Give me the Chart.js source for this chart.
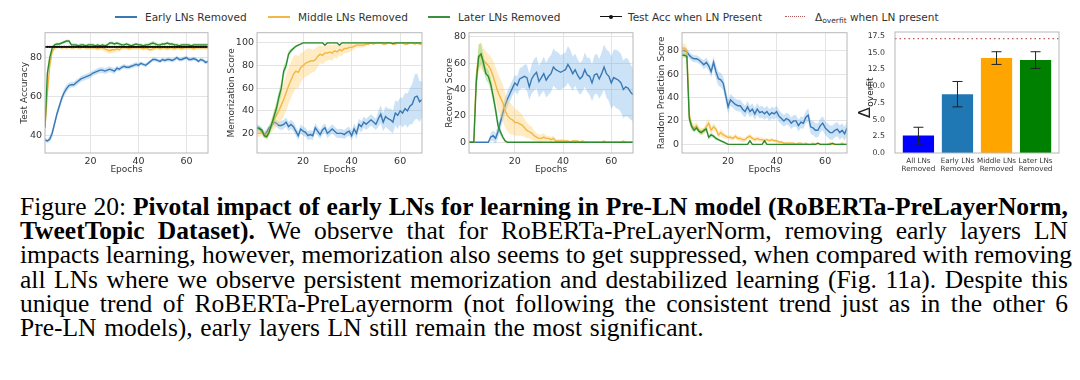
<!DOCTYPE html>
<html>
<head>
<meta charset="utf-8">
<script src="https://cdn.jsdelivr.net/npm/chart.js@4.4.1/dist/chart.umd.min.js"></script>
<style>
  body { margin: 0; background: #fff; width: 1080px; height: 380px; position: relative; overflow: hidden; font-family: "DejaVu Sans", sans-serif; }
  canvas { position: absolute; top: 24px; }
  .leg { position: absolute; top: 10px; font-size: 10.5px; line-height: 14px; color: #333; white-space: nowrap; }
  .sw { position: absolute; top: 16px; height: 0; border-top: 2px solid; }
  .dot { position: absolute; top: 15px; width: 4px; height: 4px; border-radius: 50%; background: #111; }
  .cap { position: absolute; left: 20px; width: 1048px; font-family: "Liberation Serif", "Times New Roman", serif; font-size: 25.5px; line-height: 24px; color: #000; white-space: nowrap; text-align: justify; text-align-last: justify; }
  .cap.last { text-align-last: left; word-spacing: 1.3px; }
  sub { font-size: 7.5px; vertical-align: -2px; }
</style>
</head>
<body>
<div class="sw" style="left:115px;width:22px;border-color:#3a78b4"></div>
<div class="leg" style="left:145px">Early LNs Removed</div>
<div class="sw" style="left:268px;width:22px;border-color:#f2b744"></div>
<div class="leg" style="left:298px">Middle LNs Removed</div>
<div class="sw" style="left:428px;width:22px;border-color:#3c8f3c"></div>
<div class="leg" style="left:458px">Later LNs Removed</div>
<div class="sw" style="left:600px;width:22px;border-color:#111;border-top-width:1.5px"></div>
<div class="dot" style="left:609px"></div>
<div class="leg" style="left:628px">Test Acc when LN Present</div>
<div class="sw" style="left:785px;width:20px;border-color:#b35a5a;border-top-style:dotted;border-top-width:1.5px"></div>
<div class="leg" style="left:815px">Δ<sub>overfit</sub> when LN present</div>

<canvas id="accChart" width="215" height="156" style="left:0px"></canvas>
<canvas id="memChart" width="215" height="156" style="left:215px"></canvas>
<canvas id="recChart" width="210" height="156" style="left:430px"></canvas>
<canvas id="randChart" width="215" height="156" style="left:640px"></canvas>
<canvas id="overfitChart" width="215" height="156" style="left:850px"></canvas>

<div class="cap" style="top:195px">Figure 20: <b>Pivotal impact of early LNs for learning in Pre-LN model (RoBERTa-PreLayerNorm,</b></div>
<div class="cap" style="top:219.2px"><b>TweetTopic Dataset).</b> We observe that for RoBERTa-PreLayerNorm, removing early layers LN</div>
<div class="cap" style="top:243.4px">impacts learning, however, memorization also seems to get suppressed, when compared with removing</div>
<div class="cap" style="top:267.6px">all LNs where we observe persistent memorization and destabilized learning (Fig. 11a). Despite this</div>
<div class="cap" style="top:291.8px">unique trend of RoBERTa-PreLayernorm (not following the consistent trend just as in the other 6</div>
<div class="cap last" style="top:316px">Pre-LN models), early layers LN still remain the most significant.</div>

<script>
// epochs 1..69
const epochs = Array.from({ length: 69 }, (_, i) => i + 1);

// Test accuracy
const accPresent = 85.5;
const accEarly = [37.5, 37, 38, 41, 46, 51, 55, 59, 62, 64,
  65.5, 66, 66, 67, 68, 69, 69.5, 70, 70.5, 71,
  72, 72.5, 73, 73.5, 73.5, 73, 73.5, 74, 73.5, 73,
  74.5, 74, 75, 75.5, 75, 75, 75.5, 76, 76.5, 76,
  77, 76.5, 76, 77, 78, 79, 79, 78.5, 78, 79,
  78.5, 79, 79, 78.5, 79, 80, 79, 79, 79.5, 80,
  79, 79, 79.5, 79, 78, 79, 78.5, 77.5, 78];
const accEarlySd = [1, 1, 1.5, 2, 2, 2, 2, 2, 2, 2,
  1.5, 1.5, 1.5, 1.5, 1.5, 1.5, 1.5, 1.5, 1.5, 1.5,
  1.5, 1.5, 1.5, 1.5, 1.5, 1.5, 1.5, 1.5, 1.5, 1.5,
  1.2, 1.2, 1.2, 1.2, 1.2, 1.2, 1.2, 1.2, 1.2, 1.2,
  1, 1, 1, 1, 1, 1, 1, 1, 1, 1,
  1, 1, 1, 1, 1, 1, 1, 1, 1, 1,
  1, 1, 1, 1, 1, 1, 1, 1, 1];
const accMiddle = [44, 62, 76, 83, 85, 85.5, 85.5, 85, 85.5, 85,
  85.5, 85, 85, 85.5, 85, 85, 85.5, 85, 85, 85,
  85, 85, 84.5, 85, 85, 84.5, 84, 83.5, 84, 84,
  84.5, 84, 85, 85, 85, 84.5, 85, 85, 85, 85,
  85, 84.5, 85, 84.5, 84, 84.5, 85, 85, 84.5, 85,
  85, 84.5, 85, 85, 84.5, 85, 85, 84.5, 85, 85,
  85, 85, 84.5, 85, 85, 85, 85, 85, 85];
const accMiddleSd = [3, 4, 3, 1.5, 1, 1, 1, 1, 1, 1,
  1, 1, 1, 1, 1, 1, 1, 1, 1, 1,
  1, 1, 1, 1, 1.2, 1.5, 1.5, 1.5, 1.5, 1.5,
  1.2, 1, 1, 1, 1, 1, 1, 1, 1, 1,
  1, 1, 1, 1, 1.2, 1.2, 1, 1, 1, 1,
  1, 1, 1, 1, 1, 1, 1, 1, 1, 1,
  1, 1, 1, 1, 1, 1, 1, 1, 1];
const accLater = [44, 72, 80, 85, 86.5, 87, 87, 87.5, 88, 88.5,
  88.5, 86.5, 86.5, 86.5, 86, 86.5, 86.5, 86, 86.5, 86.5,
  86.5, 86, 86.5, 86, 86.5, 86, 86.5, 87.5, 87.5, 87,
  87.5, 87, 86.5, 86.5, 87, 86.5, 86, 86.5, 87, 86.5,
  86.5, 86, 86.5, 86.5, 87, 87.5, 87, 86.5, 86.5, 87,
  87, 87.5, 87, 87, 86.5, 86.5, 86, 86.5, 86.5, 86.5,
  86.5, 86, 86.5, 86.5, 86.5, 86.5, 86.5, 86.5, 86.5];
const accLaterSd = [3, 3, 2, 1, 0.8, 0.8, 0.8, 0.8, 0.8, 0.8,
  0.8, 0.8, 0.8, 0.8, 0.8, 0.8, 0.8, 0.8, 0.8, 0.8,
  0.8, 0.8, 0.8, 0.8, 0.8, 0.8, 0.8, 0.8, 0.8, 0.8,
  0.8, 0.8, 0.8, 0.8, 0.8, 0.8, 0.8, 0.8, 0.8, 0.8,
  0.8, 0.8, 0.8, 0.8, 1, 1, 1, 0.8, 0.8, 0.8,
  0.8, 0.8, 0.8, 0.8, 0.8, 0.8, 0.8, 0.8, 0.8, 0.8,
  0.8, 0.8, 0.8, 0.8, 0.8, 0.8, 0.8, 0.8, 0.8];

// Memorization score
const memEarly = [25, 24, 22, 19, 21, 25, 27, 30, 29, 27,
  27, 28, 30, 26, 28, 26, 22, 18, 24, 22,
  21, 18, 19, 18, 25, 22, 19, 23, 25, 20,
  22, 24, 22, 20, 20, 20, 19, 21, 22, 18,
  24, 20, 28, 26, 30, 28, 30, 32, 30, 28,
  33, 37, 30, 35, 33, 32, 30, 38, 36, 40,
  38, 42, 40, 44, 46, 52, 53, 48, 50];
const memEarlySd = [3, 3, 3, 3, 3, 3, 3, 3, 3, 3,
  4, 4, 4, 4, 4, 4, 4, 4, 4, 4,
  4, 4, 4, 4, 4, 4, 4, 4, 4, 4,
  4, 4, 4, 4, 4, 4, 4, 4, 4, 4,
  5, 5, 5, 5, 5, 5, 5, 5, 5, 5,
  7, 8, 8, 9, 9, 10, 10, 11, 12, 12,
  13, 14, 15, 16, 18, 20, 20, 18, 16];
const memMiddle = [20, 20, 21, 19, 18, 22, 27, 32, 36, 40,
  45, 50, 56, 62, 67, 72, 75, 74, 78, 80,
  82, 83, 84, 84, 85, 88, 90, 89, 91, 91,
  92, 91, 93, 92, 94, 93, 95, 95, 96, 96,
  97, 98, 98, 98, 98, 99, 99, 100, 99, 100,
  100, 100, 99, 99, 100, 100, 99, 99, 100, 100,
  100, 99, 99, 100, 100, 99, 100, 99, 99];
const memMiddleSd = [3, 3, 3, 3, 3, 4, 6, 8, 10, 12,
  14, 15, 16, 16, 16, 16, 15, 14, 13, 12,
  12, 12, 11, 10, 10, 9, 8, 8, 8, 7,
  7, 7, 6, 6, 5, 5, 4, 4, 4, 3,
  3, 2, 2, 2, 2, 1.5, 1.5, 1, 1, 1,
  1, 1, 1, 1, 1, 1, 1, 1, 1, 1,
  1, 1, 1, 1, 1, 1, 1, 1, 1];
const memLater = [25, 24.5, 23, 18, 17, 21, 28, 35, 42, 52,
  60, 75, 80, 90, 93, 95, 97, 98, 99, 100,
  100, 100, 100, 100, 100, 100, 100, 100, 98, 100,
  100, 100, 100, 100, 98, 100, 100, 100, 100, 100,
  100, 100, 100, 100, 100, 100, 100, 100, 100, 100,
  100, 100, 100, 100, 100, 100, 99.5, 100, 100, 100,
  100, 100, 100, 100, 100, 100, 100, 100, 100];
const memLaterSd = [2, 2, 2, 2, 2, 3, 4, 5, 6, 6,
  6, 5, 4, 3, 2, 1.5, 1, 1, 0.5, 0.5,
  0.5, 0.5, 0.5, 0.5, 0.5, 0.5, 0.5, 0.5, 1, 0.5,
  0.5, 0.5, 0.5, 0.5, 1, 0.5, 0.5, 0.5, 0.5, 0.5,
  0.5, 0.5, 0.5, 0.5, 0.5, 0.5, 0.5, 0.5, 0.5, 0.5,
  0.5, 0.5, 0.5, 0.5, 0.5, 0.5, 0.5, 0.5, 0.5, 0.5,
  0.5, 0.5, 0.5, 0.5, 0.5, 0.5, 0.5, 0.5, 0.5];

// Recovery score
const recEarly = [0, 0, 0, 0, 0, 0, 0, 0, 0, 4,
  5, 3, 8, 15, 22, 28, 33, 37, 41, 45,
  43, 48, 49, 50, 49, 42, 48, 51, 53, 46,
  49, 52, 47, 50, 52, 57, 55, 54, 53, 54,
  55, 59, 56, 52, 55, 51, 48, 50, 55, 51,
  50, 45, 51, 52, 48, 52, 57, 52, 50, 45,
  49, 48, 47, 45, 40, 42, 41, 38, 36];
const recEarlySd = [0, 0, 0, 0, 0, 0, 0, 0, 0, 3,
  4, 4, 5, 5, 6, 6, 6, 6, 6, 6,
  7, 8, 8, 9, 10, 10, 11, 12, 12, 12,
  12, 13, 13, 14, 14, 14, 14, 14, 13, 13,
  13, 14, 14, 13, 12, 12, 12, 12, 13, 13,
  14, 14, 15, 15, 15, 16, 17, 18, 19, 20,
  21, 22, 22, 22, 22, 22, 22, 21, 20];
const recMiddle = [0, 0, 0, 50, 64, 66, 62, 60, 58, 55,
  50, 44, 38, 34, 30, 24, 20, 18, 17, 15,
  15, 14, 13, 11, 9, 8, 7, 5, 4, 3,
  3, 4, 3, 3, 2, 3, 1, 1, 1, 1,
  1, 1, 0, 1, 1, 1, 0, 1, 0, 0,
  0, 0, 0, 0, 0, 0, 1, 0, 0, 0,
  0, 0, 0, 0, 1, 0, 0, 0, 0];
const recMiddleSd = [0, 0, 0, 8, 10, 10, 9, 9, 9, 10,
  12, 13, 14, 14, 14, 13, 12, 12, 11, 10,
  10, 9, 8, 7, 6, 5, 5, 4, 3, 3,
  3, 3, 2, 2, 2, 2, 1.5, 1.5, 1.5, 1.5,
  1, 1, 1, 1, 1, 1, 1, 1, 1, 1,
  0.5, 0.5, 0.5, 0.5, 0.5, 0.5, 0.5, 0.5, 0.5, 0.5,
  0.5, 0.5, 0.5, 0.5, 0.5, 0.5, 0.5, 0.5, 0.5];
const recLater = [0, 0, 0, 45, 65, 67, 60, 52, 50, 44,
  35, 25, 13, 8, 4, 1, 0, 0, 0, 0,
  0, 0, 0, 0, 0, 0, 0, 0, 0, 0,
  0, 0, 0, 0, 0, 0, 0, 0, 0, 0,
  0, 0, 0, 0, 0, 0, 0, 0, 0, 0,
  0, 0, 0, 0, 0, 0, 0, 0, 0, 0,
  0, 0, 0, 0, 0, 0, 0, 0, 0];
const recLaterSd = [0, 0, 0, 8, 9, 8, 6, 5, 5, 5,
  5, 5, 4, 3, 2, 1, 0, 0, 0, 0,
  0, 0, 0, 0, 0, 0, 0, 0, 0, 0,
  0, 0, 0, 0, 0, 0, 0, 0, 0, 0,
  0, 0, 0, 0, 0, 0, 0, 0, 0, 0,
  0, 0, 0, 0, 0, 0, 0, 0, 0, 0,
  0, 0, 0, 0, 0, 0, 0, 0, 0];

// Random prediction score
const randEarly = [80, 80, 79, 76, 74, 73, 73, 72, 70, 68,
  70, 67, 62, 70, 62, 56, 55, 52, 42, 32,
  38, 36, 34, 33, 33, 30, 28, 32, 28, 30,
  26, 30, 27, 28, 26, 28, 25, 27, 26, 28,
  24, 22, 20, 22, 21, 18, 20, 20, 16, 19,
  18, 23, 25, 15, 14, 12, 12, 16, 18, 14,
  12, 10, 10, 12, 13, 10, 12, 9, 14];
const randEarlySd = [3, 3, 3, 3, 3, 3, 3, 3, 3, 4,
  4, 4, 5, 5, 6, 6, 6, 6, 6, 6,
  5, 5, 5, 5, 5, 5, 5, 5, 5, 5,
  5, 5, 5, 5, 5, 5, 5, 5, 5, 5,
  5, 5, 5, 5, 5, 5, 5, 5, 5, 5,
  5, 5, 6, 6, 6, 6, 6, 6, 6, 6,
  6, 6, 6, 6, 6, 6, 6, 6, 6];
const randMiddle = [82, 82, 80, 25, 16, 14, 16, 12, 11, 11,
  15, 18, 12, 15, 13, 8, 10, 8, 7, 6,
  6, 5, 7, 5, 5, 4, 4, 6, 7, 5,
  4, 5, 4, 4, 3, 4, 3, 4, 3, 3,
  2, 2, 1, 1, 1, 1, 1, 0, 1, 1,
  0, 1, 0, 0, 1, 0, 1, 0, 0, 0,
  0, 1, 0, 0, 0, 0, 1, 0, 0];
const randMiddleSd = [4, 4, 4, 6, 4, 3, 3, 3, 3, 3,
  4, 4, 3, 3, 3, 3, 3, 3, 2, 2,
  2, 2, 2, 2, 2, 2, 2, 2, 2, 2,
  2, 2, 2, 2, 1.5, 1.5, 1.5, 1.5, 1.5, 1.5,
  1, 1, 1, 1, 1, 1, 1, 1, 1, 1,
  1, 1, 1, 1, 1, 1, 1, 1, 1, 1,
  1, 1, 1, 1, 1, 1, 1, 1, 1];
const randLater = [76, 76, 75, 22, 15, 12, 14, 11, 10, 12,
  13, 6, 8, 7, 5, 4, 3, 2, 1, 0,
  0, 0, 0, 0, 0, 0, 0, 0, 3, 0,
  0, 0, 0, 0, 3, 0, 0, 0, 0, 0,
  0, 0, 0, 0, 0, 0, 0, 0, 0, 0,
  0, 0, 0, 0, 0, 0, 1, 0, 0, 0,
  0, 0, 1, 0, 0, 0, 0, 0, 0];
const randLaterSd = [2, 2, 2, 4, 3, 2, 2, 2, 2, 2,
  2, 2, 2, 1.5, 1.5, 1, 1, 1, 0.5, 0.5,
  0.3, 0.3, 0.3, 0.3, 0.3, 0.3, 0.3, 0.3, 0.8, 0.3,
  0.3, 0.3, 0.3, 0.3, 0.8, 0.3, 0.3, 0.3, 0.3, 0.3,
  0.3, 0.3, 0.3, 0.3, 0.3, 0.3, 0.3, 0.3, 0.3, 0.3,
  0.3, 0.3, 0.3, 0.3, 0.3, 0.3, 0.3, 0.3, 0.3, 0.3,
  0.3, 0.3, 0.3, 0.3, 0.3, 0.3, 0.3, 0.3, 0.3];

// Delta overfit bars
const barLabels = [['All LNs', 'Removed'], ['Early LNs', 'Removed'], ['Middle LNs', 'Removed'], ['Later LNs', 'Removed']];
const barValues = [2.6, 8.8, 14.2, 13.9];
const barErrors = [1.25, 1.9, 0.95, 1.25];
const overfitPresent = 17.1;

const lineColors = { early: '#3a78b4', middle: '#f2b744', later: '#2f8a2f' };
const bandColors = { early: 'rgba(100,170,230,0.33)', middle: 'rgba(255,200,90,0.35)', later: 'rgba(90,205,90,0.35)' };
const barColors = ['#0000ff', '#1f77b4', '#ffa500', '#008000'];
const gridColor = '#e4e4e4';
const textColor = '#333';

Chart.defaults.font.family = '"DejaVu Sans", sans-serif';

const frame = {
  id: 'frame',
  afterDatasetsDraw(chart) {
    const { ctx, chartArea: a } = chart;
    ctx.save();
    ctx.strokeStyle = '#b8b8b8';
    ctx.lineWidth = 1;
    ctx.strokeRect(a.left, a.top, a.right - a.left, a.bottom - a.top);
    ctx.restore();
  }
};

const toPoints = arr => arr.map((v, i) => ({ x: epochs[i], y: v }));

function bandSet(mean, spread, line, fill, order) {
  return [
    { data: toPoints(mean.map((v, i) => v + spread[i])), borderWidth: 0, pointRadius: 0, fill: '+1', backgroundColor: fill, order: order + 1 },
    { data: toPoints(mean.map((v, i) => v - spread[i])), borderWidth: 0, pointRadius: 0, fill: false, order: order + 1 },
    { data: toPoints(mean), borderColor: line, borderWidth: 1.4, pointRadius: 0, fill: false, order: order }
  ];
}

function makeLineChart(id, cfg) {
  const datasets = [
    ...bandSet(cfg.later, cfg.laterSd, lineColors.later, bandColors.later, 1),
    ...bandSet(cfg.middle, cfg.middleSd, lineColors.middle, bandColors.middle, 3),
    ...bandSet(cfg.early, cfg.earlySd, lineColors.early, bandColors.early, 5)
  ];
  if (cfg.extra) datasets.push(cfg.extra);

  return new Chart(document.getElementById(id), {
    type: 'line',
    data: { datasets },
    options: {
      responsive: false,
      animation: false,
      layout: { padding: { top: 8, right: cfg.padRight, left: 0, bottom: 0 } },
      plugins: { legend: { display: false }, tooltip: { enabled: false } },
      scales: {
        x: {
          type: 'linear', min: 1, max: 69,
          afterFit: s => { s.height = 27; },
          grid: { color: gridColor, drawTicks: false },
          border: { display: false },
          ticks: { stepSize: 20, includeBounds: false, padding: 3, color: textColor, font: { size: 9.5 } },
          title: { display: true, text: 'Epochs', color: textColor, font: { size: 9 }, padding: { top: 0, bottom: 4.6 } }
        },
        y: {
          min: cfg.yMin, max: cfg.yMax,
          afterFit: s => { s.width = cfg.yWidth; },
          grid: { color: gridColor, drawTicks: false },
          border: { display: false },
          ticks: { stepSize: 20, includeBounds: false, padding: 3, color: textColor, font: { size: 9.5 } },
          title: { display: true, text: cfg.yTitle, color: textColor, font: { size: 9 }, padding: { top: cfg.titlePad, bottom: 0 } }
        }
      }
    },
    plugins: [frame]
  });
}

makeLineChart('accChart', {
  early: accEarly, earlySd: accEarlySd, middle: accMiddle, middleSd: accMiddleSd, later: accLater, laterSd: accLaterSd,
  extra: { data: toPoints(epochs.map(() => accPresent)), borderColor: '#111', borderWidth: 1.6, pointRadius: 1.1, pointBackgroundColor: '#111', pointBorderWidth: 0, fill: false, order: 0 },
  yMin: 30.8, yMax: 92.8, yWidth: 45, padRight: 7, yTitle: 'Test Accuracy', titlePad: 19.6
});

makeLineChart('memChart', {
  early: memEarly, earlySd: memEarlySd, middle: memMiddle, middleSd: memMiddleSd, later: memLater, laterSd: memLaterSd,
  yMin: 2.7, yMax: 109, yWidth: 42, padRight: 8, yTitle: 'Memorization Score', titlePad: 11.6
});

makeLineChart('recChart', {
  early: recEarly, earlySd: recEarlySd, middle: recMiddle, middleSd: recMiddleSd, later: recLater, laterSd: recLaterSd,
  yMin: -8.1, yMax: 83, yWidth: 39, padRight: 7, yTitle: 'Recovery Score', titlePad: 14.6
});

makeLineChart('randChart', {
  early: randEarly, earlySd: randEarlySd, middle: randMiddle, middleSd: randMiddleSd, later: randLater, laterSd: randLaterSd,
  yMin: -7.4, yMax: 95.3, yWidth: 42, padRight: 8, yTitle: 'Random Prediction Score', titlePad: 16.6
});

// error bars and the rotated Δ_overfit axis label
const errorBars = {
  id: 'errorBars',
  afterDatasetsDraw(chart) {
    const { ctx, scales: { x, y } } = chart;
    ctx.save();
    ctx.strokeStyle = '#222';
    ctx.lineWidth = 1;
    barValues.forEach((v, i) => {
      const px = x.getPixelForValue(i);
      const top = y.getPixelForValue(v + barErrors[i]);
      const bot = y.getPixelForValue(v - barErrors[i]);
      ctx.beginPath();
      ctx.moveTo(px, top); ctx.lineTo(px, bot);
      ctx.moveTo(px - 5, top); ctx.lineTo(px + 5, top);
      ctx.moveTo(px - 5, bot); ctx.lineTo(px + 5, bot);
      ctx.stroke();
    });
    ctx.restore();
  }
};

const deltaLabel = {
  id: 'deltaLabel',
  afterDraw(chart) {
    const { ctx, chartArea: a } = chart;
    ctx.save();
    ctx.translate(20, (a.top + a.bottom) / 2 + 5.5);
    ctx.rotate(-Math.PI / 2);
    ctx.fillStyle = '#222';
    ctx.textBaseline = 'alphabetic';
    ctx.font = '16px "DejaVu Sans"';
    const wD = ctx.measureText('Δ').width;
    ctx.font = '9px "DejaVu Sans"';
    const wS = ctx.measureText('overfit').width;
    const start = -(wD + wS) / 2;
    ctx.font = '16px "DejaVu Sans"';
    ctx.fillText('Δ', start, 0);
    ctx.font = '9px "DejaVu Sans"';
    ctx.fillText('overfit', start + wD + 0.5, 2.5);
    ctx.restore();
  }
};

new Chart(document.getElementById('overfitChart'), {
  type: 'bar',
  data: {
    datasets: [
      { type: 'bar', data: barValues.map((v, i) => ({ x: i, y: v })), backgroundColor: barColors, barPercentage: 0.8, categoryPercentage: 1, order: 1 },
      { type: 'line', data: [{ x: -0.6, y: overfitPresent }, { x: 3.6, y: overfitPresent }], borderColor: '#b35a5a', borderWidth: 1.3, borderDash: [1.5, 3], pointRadius: 0, fill: false, order: 0 }
    ]
  },
  options: {
    responsive: false,
    animation: false,
    layout: { padding: { top: 8, right: 6, left: 0, bottom: 0 } },
    plugins: { legend: { display: false }, tooltip: { enabled: false } },
    scales: {
      x: {
        type: 'linear', min: -0.6, max: 3.6, offset: false,
        afterBuildTicks: s => { s.ticks = barLabels.map((_, i) => ({ value: i })); },
        afterFit: s => { s.height = 27; },
        grid: { display: false },
        border: { display: false },
        ticks: { autoSkip: false, maxRotation: 0, padding: -4.5, color: textColor, font: { size: 7.2, lineHeight: 1.15 }, callback: v => barLabels[v] }
      },
      y: {
        min: 0, max: 18.1,
        afterFit: s => { s.width = 45; },
        grid: { display: false },
        border: { display: false },
        ticks: { stepSize: 2.5, includeBounds: false, padding: 2, color: textColor, font: { size: 7.8 }, callback: v => v.toFixed(1) }
      }
    }
  },
  plugins: [frame, errorBars, deltaLabel]
});
</script>
</body>
</html>
